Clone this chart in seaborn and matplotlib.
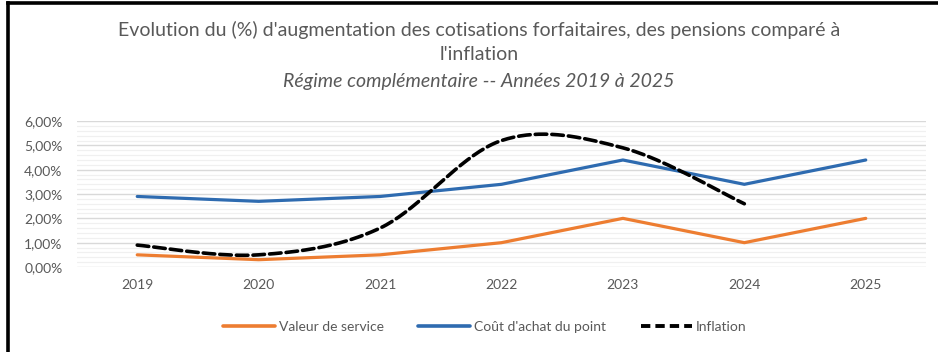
import numpy as np
import pandas as pd
import matplotlib
matplotlib.use("Agg")
import matplotlib.pyplot as plt
from matplotlib.lines import Line2D
from matplotlib.ticker import MultipleLocator, FuncFormatter
import seaborn as sns

# Data
years = ["2019", "2020", "2021", "2022", "2023", "2024", "2025"]
valeur_service = [0.5, 0.3, 0.5, 1.0, 2.0, 1.0, 2.0]
cout_achat = [2.9, 2.7, 2.9, 3.4, 4.4, 3.4, 4.4]
inflation = [0.9, 0.5, 1.6, 5.2, 4.9, 2.6]

ORANGE = "#ED7D31"
BLUE = "#2E6BB0"
GREY = "#595959"

sns.set_theme(style="white")
plt.rcParams["font.family"] = ["Lato", "DejaVu Sans"]


def smooth_curve(xs, ys, n=40):
    """Bezier smoothing through every point (spreadsheet-style smoothed line)."""
    pts = np.column_stack([xs, ys]).astype(float)
    out = []
    for i in range(len(pts) - 1):
        p0 = pts[i]
        p3 = pts[i + 1]
        prev = pts[i - 1] if i > 0 else pts[i]
        nxt = pts[i + 2] if i + 2 < len(pts) else pts[i + 1]
        p1 = p0 + (p3 - prev) / 6.0
        p2 = p3 - (nxt - p0) / 6.0
        t = np.linspace(0, 1, n)[:, None]
        seg = ((1 - t) ** 3) * p0 + 3 * ((1 - t) ** 2) * t * p1 + 3 * (1 - t) * t ** 2 * p2 + t ** 3 * p3
        out.append(seg if i == 0 else seg[1:])
    seg = np.vstack(out)
    return seg[:, 0], seg[:, 1]


fig = plt.figure(figsize=(9.38, 3.52), dpi=100)
ax = fig.add_axes([0.0816, 0.2415, 0.9061, 0.4145])

xpos = np.arange(len(years))
df = pd.DataFrame({"x": xpos, "Valeur de service": valeur_service, "Coût d'achat du point": cout_achat})

sns.lineplot(data=df, x="x", y="Valeur de service", ax=ax, color=ORANGE, linewidth=2.3,
             solid_capstyle="round")
sns.lineplot(data=df, x="x", y="Coût d'achat du point", ax=ax, color=BLUE, linewidth=2.3,
             solid_capstyle="round")

ix, iy = smooth_curve(np.arange(len(inflation)), inflation)
sns.lineplot(x=ix, y=iy, ax=ax, color="black", linewidth=2.6, sort=False, estimator=None,
             linestyle=(0, (3.2, 1.4)), dash_capstyle="round")

ax.set_xlim(-0.5, 6.5)
ax.set_ylim(0, 6)
ax.set_xticks(xpos)
ax.set_xticklabels(years)
ax.yaxis.set_major_locator(MultipleLocator(1))
ax.yaxis.set_minor_locator(MultipleLocator(0.2))
ax.yaxis.set_major_formatter(FuncFormatter(lambda v, _: f"{v:.2f}".replace(".", ",") + "%"))
ax.grid(axis="y", which="major", color="#D9D9D9", linewidth=1.0)
ax.grid(axis="y", which="minor", color="#F0F0F0", linewidth=0.9)
ax.set_axisbelow(True)
for s in ax.spines.values():
    s.set_visible(False)
ax.set_xlabel("")
ax.set_ylabel("")
ax.tick_params(axis="both", which="both", length=0, labelsize=10, labelcolor=GREY)
ax.tick_params(axis="x", pad=9)
ax.tick_params(axis="y", pad=10)

# Title
cx = 479 / 938
fig.text(cx, 1 - 30 / 352, "Evolution du (%) d'augmentation des cotisations forfaitaires, des pensions comparé à",
         ha="center", va="center", fontsize=14, color=GREY)
fig.text(cx, 1 - 55 / 352, "l'inflation", ha="center", va="center", fontsize=14, color=GREY)
fig.text(cx, 1 - 81 / 352, "Régime complémentaire -- Années 2019 à 2025", ha="center", va="center",
         fontsize=14, color=GREY, style="italic")

# Legend
handles = [
    Line2D([], [], color=ORANGE, linewidth=2.6),
    Line2D([], [], color=BLUE, linewidth=2.6),
    Line2D([], [], color="black", linewidth=2.8, linestyle=(0, (2.4, 1.3))),
]
labels = ["Valeur de service", "Coût d'achat du point", "Inflation"]
fig.legend(handles, labels, loc="center", bbox_to_anchor=(485 / 938, 1 - 327 / 352), ncol=3, frameon=False,
           fontsize=10, labelcolor=GREY, handlelength=3.7, handletextpad=0.3, columnspacing=2.5)

# Frame lines on the left and top edges
fig.add_artist(Line2D([8 / 938, 8 / 938], [0, 1 - 2.5 / 352], transform=fig.transFigure, color="black",
                      linewidth=2.6, solid_capstyle="projecting"))
fig.add_artist(Line2D([8 / 938, 1], [1 - 2.5 / 352, 1 - 2.5 / 352], transform=fig.transFigure,
                      color="black", linewidth=2.6, solid_capstyle="projecting"))

fig.savefig("out.png", dpi=100, facecolor="white")
